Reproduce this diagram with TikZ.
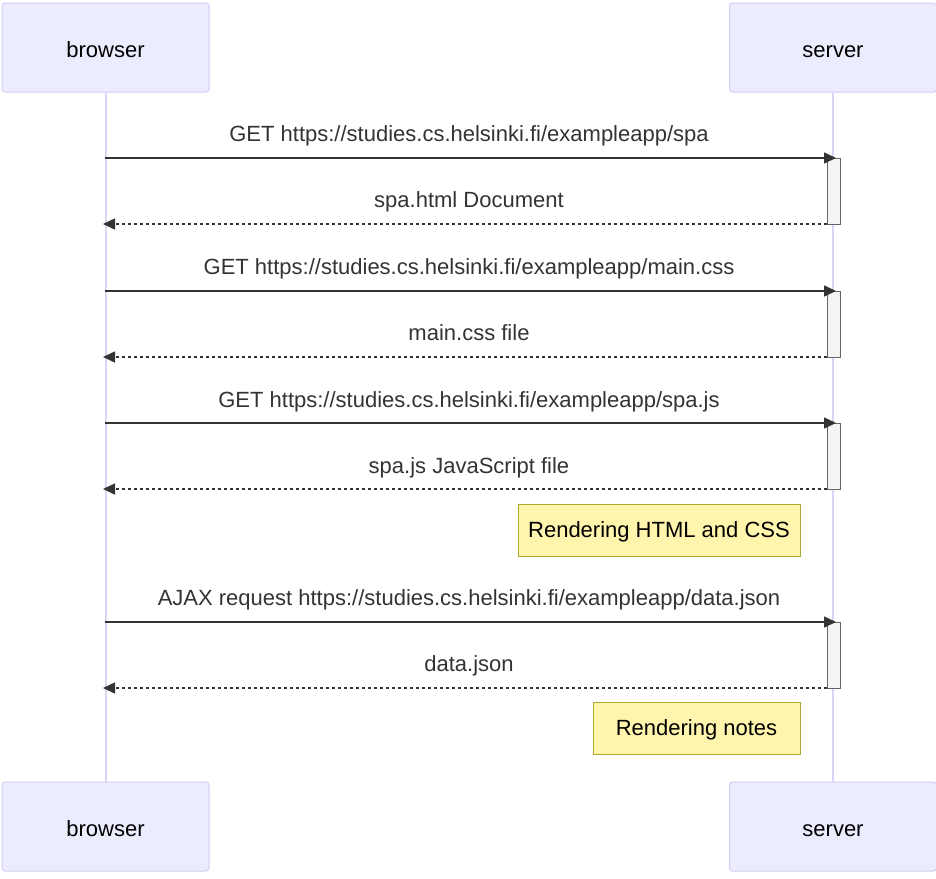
\documentclass[tikz,border=0pt]{standalone}
\usepackage{fontspec}
\setmainfont{Liberation Sans}
\usetikzlibrary{arrows.meta}
\definecolor{actfill}{HTML}{ECECFF}
\definecolor{actdraw}{HTML}{D4CCF4}
\definecolor{lifeline}{HTML}{DCD4F6}
\definecolor{msgcol}{HTML}{333333}
\definecolor{notefill}{HTML}{FFF5AD}
\definecolor{notedraw}{HTML}{AAAA33}
\definecolor{actvfill}{HTML}{F4F4F4}
\definecolor{actvdraw}{HTML}{666666}
\tikzset{
  actorbox/.style={draw=actdraw, fill=actfill, line width=1pt, rounded corners=3pt, minimum width=207pt, minimum height=89pt, inner sep=0pt, text height=19pt, text depth=0pt, text=black, font=\fontsize{22}{26}\selectfont},
  lifelinestyle/.style={draw=lifeline, line width=2pt},
  reqmsg/.style={draw=msgcol, line width=1.5pt, -{Triangle[length=12pt, width=11pt]}},
  respmsg/.style={draw=msgcol, line width=1.5pt, dash pattern=on 3pt off 3pt, -{Triangle[length=12pt, width=11pt]}},
  msglabel/.style={text=msgcol, font=\fontsize{22}{26}\selectfont, inner sep=0pt, text height=17pt, text depth=0pt},
  activation/.style={draw=actvdraw, fill=actvfill, line width=1pt},
  notebox/.style={draw=notedraw, fill=notefill, line width=1pt, inner sep=0pt, minimum height=52pt, text height=15pt, text depth=0pt, text=black, font=\fontsize{22}{26}\selectfont},
}
\begin{document}
\begin{tikzpicture}[x=1pt, y=-1pt]
\useasboundingbox (0,0) rectangle (936,878);
% actors
\node[actorbox] (bt) at (105.5,47.5) {browser};
\node[actorbox] (st) at (833,47.5) {server};
\node[actorbox] (bb) at (105.5,826.5) {browser};
\node[actorbox] (sb) at (833,826.5) {server};
% lifelines
\draw[lifelinestyle] (bt.south) -- (bb.north);
\draw[lifelinestyle] (st.south) -- (sb.north);
% activations
\foreach \ya/\yb in {158/224, 291/357, 423/489, 622/688}{
  \draw[activation] (827,\ya) rectangle (840,\yb);
}
% coordinates
\foreach \n/\y in {1/158,2/224,3/291,4/357,5/423,6/489,7/622,8/688}{
  \coordinate (bl\n) at (105,\y);
  \coordinate (sl\n) at (836,\y);
  \coordinate (sa\n) at (827,\y);
  \coordinate (bt\n) at (103,\y);
}
% messages
\draw[reqmsg] (bl1) -- (sl1);
\node[msglabel] (m1) at (469,133) {GET https://studies.cs.helsinki.fi/exampleapp/spa};
\draw[respmsg] (sa2) -- (bt2);
\node[msglabel] (m2) at (469,199) {spa.html Document};
\draw[reqmsg] (bl3) -- (sl3);
\node[msglabel] (m3) at (469,266) {GET https://studies.cs.helsinki.fi/exampleapp/main.css};
\draw[respmsg] (sa4) -- (bt4);
\node[msglabel] (m4) at (469,332) {main.css file};
\draw[reqmsg] (bl5) -- (sl5);
\node[msglabel] (m5) at (469,399) {GET https://studies.cs.helsinki.fi/exampleapp/spa.js};
\draw[respmsg] (sa6) -- (bt6);
\node[msglabel] (m6) at (469,465) {spa.js JavaScript file};
\node[notebox, minimum width=282pt] (n1) at (659,530) {Rendering HTML and CSS};
\draw[reqmsg] (bl7) -- (sl7);
\node[msglabel] (m7) at (469,597) {AJAX request https://studies.cs.helsinki.fi/exampleapp/data.json};
\draw[respmsg] (sa8) -- (bt8);
\node[msglabel] (m8) at (469,663) {data.json};
\node[notebox, minimum width=207pt] (n2) at (696.5,728) {Rendering notes};
\end{tikzpicture}
\end{document}
